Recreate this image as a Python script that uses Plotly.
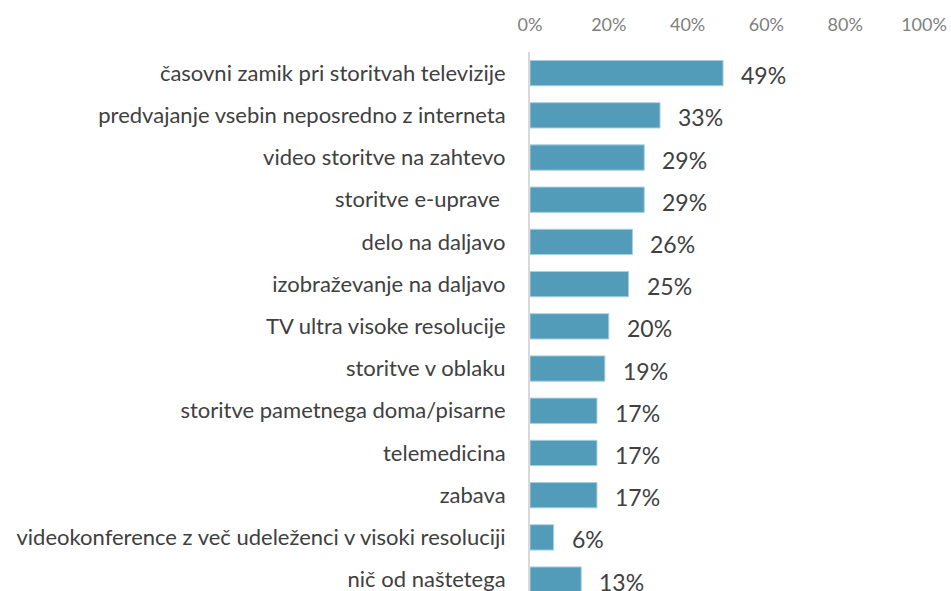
import plotly.graph_objects as go

categories = [
    "časovni zamik pri storitvah televizije",
    "predvajanje vsebin neposredno z interneta",
    "video storitve na zahtevo",
    "storitve e-uprave ",
    "delo na daljavo",
    "izobraževanje na daljavo",
    "TV ultra visoke resolucije",
    "storitve v oblaku",
    "storitve pametnega doma/pisarne",
    "telemedicina",
    "zabava",
    "videokonference z več udeleženci v visoki resoluciji",
    "nič od naštetega",
]
values = [49, 33, 29, 29, 26, 25, 20, 19, 17, 17, 17, 6, 13]
tick_vals = [0, 20, 40, 60, 80, 100]
tick_text = ["0%", "20%", "40%", "60%", "80%", "100%"]

FONT = "Lato"
fig = go.Figure()
fig.add_trace(go.Bar(
    x=values, y=categories, orientation="h",
    marker=dict(color="#529cba", line=dict(color="#a9d0df", width=1)),
    width=0.6,
    hoverinfo="skip",
))
for c, v in zip(categories, values):
    fig.add_annotation(x=v, y=c, text=f"{v}%", showarrow=False,
                       xanchor="left", xshift=16, yshift=-2,
                       font=dict(family=FONT, size=23, color="#404040"))

fig.update_layout(
    width=951, height=591,
    margin=dict(l=529.5, r=26.5, t=52, b=0),
    plot_bgcolor="white", paper_bgcolor="white",
    showlegend=False,
    bargap=0.4,
    xaxis=dict(side="top", range=[0, 100], tickvals=tick_vals, ticktext=tick_text,
               showgrid=False, zeroline=False, showline=False, ticks="",
               tickfont=dict(family=FONT, size=18, color="#808080"),
               ticklabelstandoff=16, fixedrange=True, automargin=False),
    yaxis=dict(type="category", categoryorder="array", categoryarray=categories,
               range=[12.27, -0.5], showgrid=False, zeroline=False,
               showline=True, linecolor="#d9d9d9", linewidth=2, ticks="",
               tickfont=dict(family=FONT, size=22, color="#404040"),
               ticklabelstandoff=18, fixedrange=True, automargin=False),
)
fig.write_html(
    "out.html",
    config={"displayModeBar": False, "staticPlot": True},
    post_script="document.body.style.margin='0';document.body.style.overflow='hidden';",
)
